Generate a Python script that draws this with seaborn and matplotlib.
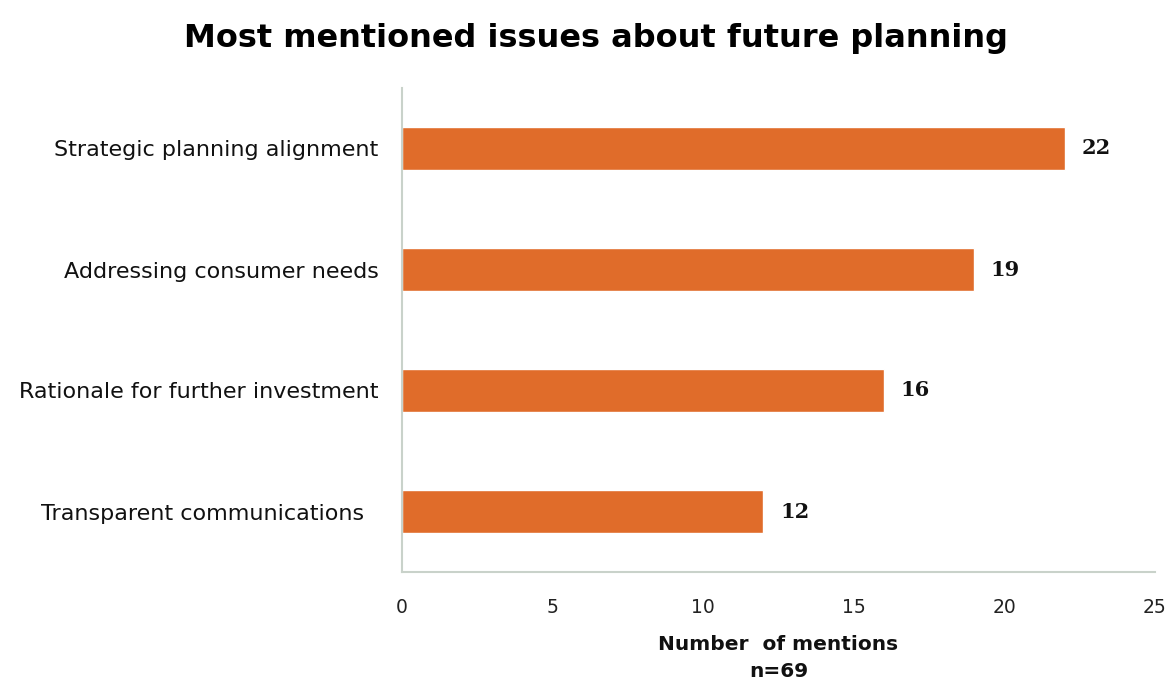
import matplotlib
matplotlib.use("Agg")
import matplotlib.pyplot as plt
import seaborn as sns
import pandas as pd

categories = ["Strategic planning alignment", "Addressing consumer needs",
              "Rationale for further investment", "Transparent communications  "]
mentions = [22, 19, 16, 12]
xticks = [0, 5, 10, 15, 20, 25]

sns.set_theme(style="white")
plt.rcParams['font.family'] = ['DejaVu Sans']

df = pd.DataFrame({"issue": categories, "mentions": mentions})

fig = plt.figure(figsize=(11.71, 6.84), dpi=100)
ax = fig.add_axes([402/1171, 1-572/684, (1155-402)/1171, (572-88)/684])

sns.barplot(data=df, x="mentions", y="issue", color="#E06C2A", width=0.355,
            saturation=1, ax=ax, orient="h")

ax.set_xlim(0, 25)
ax.set_ylim(3.5, -0.5)
ax.set_xticks(xticks)
ax.set_xticklabels([str(t) for t in xticks], fontsize=13.5, color="#222222")
ax.tick_params(axis="x", length=0, pad=19)
ax.tick_params(axis="y", length=0, pad=17, labelsize=16, labelcolor="#111111")
ax.set_ylabel("")
ax.set_xlabel("Number  of mentions\nn=69", fontsize=14.5, fontweight="bold",
              color="#111111", labelpad=13, linespacing=1.5)

for s in ["top", "right"]:
    ax.spines[s].set_visible(False)
for s in ["left", "bottom"]:
    ax.spines[s].set_color("#C9D2CA")
    ax.spines[s].set_linewidth(1.5)

for i, v in enumerate(mentions):
    ax.text(v + 0.55, i, str(v), va="center", ha="left", fontsize=15,
            fontweight="bold", family="DejaVu Serif", color="#111111")

fig.text(596/1171, 1-38/684, "Most mentioned issues about future planning",
         ha="center", va="center", fontsize=23, fontweight="bold", color="#000000")

fig.savefig("out.png", dpi=100)
